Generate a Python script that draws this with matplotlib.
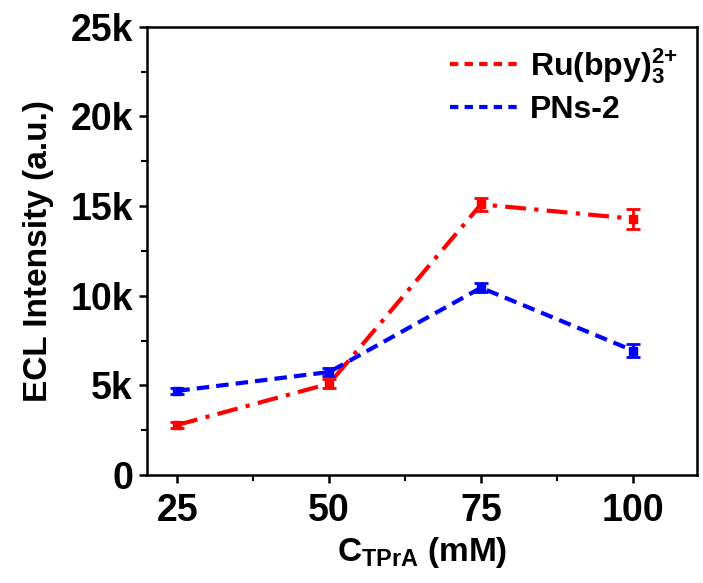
import numpy as np
import matplotlib.pyplot as plt
from matplotlib.lines import Line2D
from matplotlib.ticker import FuncFormatter, MultipleLocator

plt.rcParams['font.family'] = ['Liberation Sans', 'DejaVu Sans']
plt.rcParams['font.weight'] = 'bold'
plt.rcParams['mathtext.fontset'] = 'custom'
plt.rcParams['mathtext.rm'] = 'Liberation Sans:bold'
plt.rcParams['mathtext.bf'] = 'Liberation Sans:bold'
plt.rcParams['mathtext.default'] = 'bf'

# 数据
conc = [25, 50, 75, 100]
ru = [2800, 5100, 15100, 14300]
ru_err = [150, 250, 350, 550]
pns = [4700, 5750, 10450, 6950]
pns_err = [150, 200, 250, 350]

fig = plt.figure(figsize=(7.03, 5.83), dpi=100)
ax = fig.add_axes([0.209, 0.185, 0.782, 0.769])

ax.errorbar(conc, ru, yerr=ru_err, color='red', ls=(0, (5, 2, 1, 2)), lw=3,
            marker='s', ms=5.5, capsize=5, capthick=2, elinewidth=2)
ax.errorbar(conc, pns, yerr=pns_err, color='blue', ls=(0, (3, 1.7)), lw=3,
            marker='s', ms=5.5, capsize=5, capthick=2, elinewidth=2)

ax.set_xlim(20, 110.5)
ax.set_ylim(0, 25000)
ax.xaxis.set_major_locator(MultipleLocator(25))
ax.xaxis.set_minor_locator(MultipleLocator(12.5))
ax.yaxis.set_major_locator(MultipleLocator(5000))
ax.yaxis.set_minor_locator(MultipleLocator(2500))
ax.yaxis.set_major_formatter(FuncFormatter(lambda v, p: '0' if v == 0 else '%dk' % (v / 1000)))

for s in ax.spines.values():
    s.set_linewidth(1.8)
ax.tick_params(which='major', direction='out', length=6, width=1.8, labelsize=27, pad=4)
ax.tick_params(axis='x', which='major', pad=7)
ax.tick_params(which='minor', direction='out', length=4, width=1.5)

ax.set_xlabel(r'C$_{\mathregular{TPrA}}$ (mM)', fontsize=24, fontweight='bold', labelpad=4)
ax.set_ylabel('ECL Intensity (a.u.)', fontsize=24, fontweight='bold', labelpad=12)

handles = [Line2D([], [], color='red', lw=3, ls=(0, (2, 1.5))),
           Line2D([], [], color='blue', lw=3, ls=(0, (2, 1.5)))]
labels = [r'Ru(bpy)$_{\mathregular{3}}^{\mathregular{2{+}}}$', 'PNs-2']
ax.legend(handles, labels, loc='upper right', frameon=False, fontsize=23,
          handlelength=2.2, handletextpad=0.3, borderaxespad=0.2, labelspacing=0.3)

fig.savefig('out.png', dpi=100)
